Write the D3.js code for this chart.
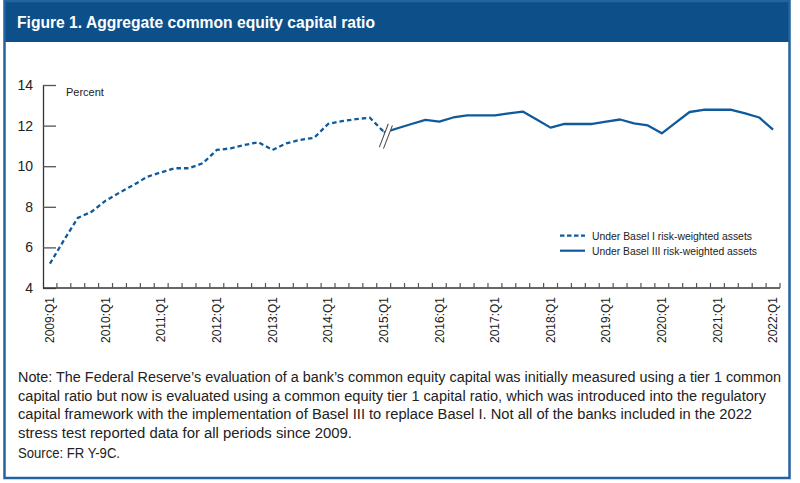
<!DOCTYPE html>
<html>
<head>
<meta charset="utf-8">
<script src="https://cdn.jsdelivr.net/npm/d3@7"></script>
<style>
  body { margin: 0; background: #fff; }
  svg { display: block; }
  text { font-family: "Liberation Sans", Arial, sans-serif; }
</style>
</head>
<body>
<svg id="chart" width="800" height="483"></svg>
<script>
// ---- data ----
const years = [2009, 2010, 2011, 2012, 2013, 2014, 2015, 2016, 2017, 2018, 2019, 2020, 2021, 2022];
const quarterNames = ["Q1", "Q2", "Q3", "Q4"];
const quarters = [];
years.forEach(yr => quarterNames.forEach(q => {
  if (yr < 2022 || q === "Q1") quarters.push(yr + ":" + q);
}));

// Under Basel I risk-weighted assets (2009:Q1 - 2015:Q1)
const baselIQuarters = quarters.slice(0, 25);
const baselIValues = [5.2, 6.35, 7.45, 7.76, 8.3, 8.7, 9.07, 9.48, 9.7, 9.9, 9.9, 10.15,
  10.8, 10.88, 11.05, 11.18, 10.8, 11.13, 11.3, 11.4, 12.08, 12.22, 12.32, 12.39, 11.7];

// Under Basel III risk-weighted assets (2015:Q1 - 2022:Q1)
const baselIIIQuarters = quarters.slice(24);
const baselIIIValues = [11.65, 11.87, 12.08, 12.28, 12.2, 12.4, 12.5, 12.5, 12.5, 12.6, 12.69,
  12.3, 11.9, 12.08, 12.08, 12.08, 12.2, 12.3, 12.11, 12.01, 11.62, 12.15, 12.67, 12.78,
  12.78, 12.78, 12.6, 12.4, 11.8];

const yTicks = [4, 6, 8, 10, 12, 14];
const titleText = "Figure 1. Aggregate common equity capital ratio";
const seriesNames = ["Under Basel I risk-weighted assets", "Under Basel III risk-weighted assets"];
const noteLines = [
  "Note: The Federal Reserve\u2019s evaluation of a bank\u2019s common equity capital was initially measured using a tier 1 common",
  "capital ratio but now is evaluated using a common equity tier 1 capital ratio, which was introduced into the regulatory",
  "capital framework with the implementation of Basel III to replace Basel I. Not all of the banks included in the 2022",
  "stress test reported data for all periods since 2009."
];
const noteWidths = [763, 748, 734, 334];
const sourceText = "Source: FR Y-9C.";

// ---- drawing ----
const svg = d3.select("#chart");
const blue = "#0f5a9c";
const frameBlue = "#2463a0";

svg.append("rect").attr("x", 0).attr("y", 0).attr("width", 800).attr("height", 483).attr("fill", "#fff");
svg.append("rect").attr("x", 4).attr("y", 0).attr("width", 786).attr("height", 42).attr("fill", "#0d4f88");
svg.append("rect").attr("x", 4.5).attr("y", 1).attr("width", 785).attr("height", 477)
  .attr("fill", "none").attr("stroke", frameBlue).attr("stroke-width", 2.5);

svg.append("text").attr("x", 17).attr("y", 28)
  .attr("fill", "#fff").attr("font-weight", "bold").attr("font-size", 16)
  .attr("textLength", 358).attr("lengthAdjust", "spacingAndGlyphs")
  .text(titleText);

const x = d3.scaleBand().domain(quarters).range([43, 780]).padding(0);
const y = d3.scaleLinear().domain([4, 14]).range([288, 85]);
const bw = x.bandwidth();

// y axis
const yAxis = d3.axisLeft(y).tickValues(yTicks).tickSizeInner(-13).tickSizeOuter(0).tickPadding(10);
const gy = svg.append("g").attr("transform", "translate(43,0)").call(yAxis);
gy.select(".domain").attr("stroke", "#333").attr("stroke-width", 1.3);
gy.selectAll(".tick line").attr("stroke", "#555").attr("stroke-width", 1.3);
gy.selectAll(".tick text").attr("font-size", 14).attr("fill", "#222")
  .attr("font-family", "Liberation Sans, Arial, sans-serif");

svg.append("text").attr("x", 66).attr("y", 96).attr("font-size", 11).attr("fill", "#222")
  .text("Percent");

// x axis
const gx = svg.append("g");
gx.append("line").attr("x1", x.range()[0]).attr("x2", x.range()[1])
  .attr("y1", y(4)).attr("y2", y(4)).attr("stroke", "#333").attr("stroke-width", 1.3);
gx.selectAll("line.tick").data(quarters).join("line").attr("class", "tick")
  .attr("x1", d => x(d) + bw).attr("x2", d => x(d) + bw)
  .attr("y1", y(4) - 5).attr("y2", y(4)).attr("stroke", "#555").attr("stroke-width", 1.2);
gx.selectAll("text").data(quarters.filter(d => d.endsWith("Q1"))).join("text")
  .attr("transform", d => `translate(${x(d) + bw / 2},297) rotate(-90)`)
  .attr("text-anchor", "end").attr("dy", "0.35em")
  .attr("font-size", 12).attr("fill", "#222")
  .text(d => d);

// lines
const line = d3.line().x(d => x(d[0]) + bw / 2).y(d => y(d[1]));
svg.append("path").datum(baselIQuarters.map((q, i) => [q, baselIValues[i]]))
  .attr("d", line).attr("fill", "none").attr("stroke", blue)
  .attr("stroke-width", 2.3).attr("stroke-dasharray", "4.5,3");
svg.append("path").datum(baselIIIQuarters.map((q, i) => [q, baselIIIValues[i]]))
  .attr("d", line).attr("fill", "none").attr("stroke", blue)
  .attr("stroke-width", 2.3).attr("stroke-linejoin", "round");

// break marks at 2015:Q1
const bq = baselIIIQuarters[0];
const bx = x(bq) + bw / 2 + 2.2;
const by = y(baselIIIValues[0]) + 3.5;
const brk = svg.append("g").attr("transform", `translate(${bx},${by}) rotate(21)`);
brk.append("rect").attr("x", -2.4).attr("y", -12.5).attr("width", 4.8).attr("height", 25).attr("fill", "#fff");
brk.append("line").attr("x1", -2.2).attr("x2", -2.2).attr("y1", -12.5).attr("y2", 12.5).attr("stroke", "#444").attr("stroke-width", 1);
brk.append("line").attr("x1", 2.2).attr("x2", 2.2).attr("y1", -12.5).attr("y2", 12.5).attr("stroke", "#444").attr("stroke-width", 1);

// legend
const legend = svg.append("g");
const legendY = [235.7, 250.7];
const legendW = [160, 165];
legend.selectAll("line").data(seriesNames).join("line")
  .attr("x1", 560).attr("x2", 585).attr("y1", (d, i) => legendY[i]).attr("y2", (d, i) => legendY[i])
  .attr("stroke", blue).attr("stroke-width", 2.2)
  .attr("stroke-dasharray", (d, i) => i === 0 ? "4.5,2.5" : null);
legend.selectAll("text").data(seriesNames).join("text")
  .attr("x", 592).attr("y", (d, i) => legendY[i] + 4)
  .attr("font-size", 11.5).attr("fill", "#222")
  .attr("textLength", (d, i) => legendW[i]).attr("lengthAdjust", "spacingAndGlyphs")
  .text(d => d);

// note
const noteBase = [382, 400.5, 419, 437.5];
svg.selectAll("text.note").data(noteLines).join("text").attr("class", "note")
  .attr("x", 18).attr("y", (d, i) => noteBase[i])
  .attr("font-size", 14).attr("fill", "#222")
  .attr("textLength", (d, i) => noteWidths[i]).attr("lengthAdjust", "spacingAndGlyphs")
  .text(d => d);
svg.append("text").attr("x", 18).attr("y", 458).attr("font-size", 14).attr("fill", "#222")
  .attr("textLength", 102).attr("lengthAdjust", "spacingAndGlyphs")
  .text(sourceText);
</script>
</body>
</html>
